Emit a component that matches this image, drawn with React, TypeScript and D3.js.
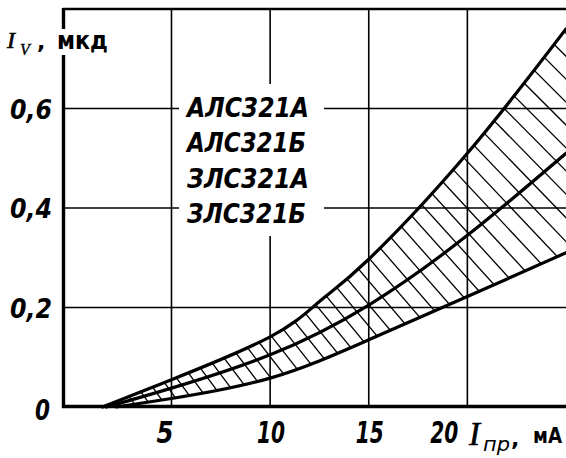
import React from 'react';
import * as d3 from 'd3';

const W = 566;
const H = 458;

// axis ticks
const xTicks = [5, 10, 15, 20];
const xTickLabels = ['5', '10', '15', '20'];
const yTicks = [0.2, 0.4, 0.6];
const yTickLabels = ['0,2', '0,4', '0,6'];

// curves: forward current (mA) vs luminous intensity (mcd)
const upperI = [1.5, 5, 10, 12.5, 15, 20, 25];
const upperIv = [0, 0.055, 0.141, 0.212, 0.297, 0.51, 0.76];
const middleI = [1.7, 5, 10, 15, 20, 25];
const middleIv = [0, 0.038, 0.105, 0.205, 0.345, 0.51];
const lowerI = [2.2, 5, 10, 15, 20, 25];
const lowerIv = [0, 0.017, 0.058, 0.135, 0.222, 0.31];

const legendLabels = ['АЛС321А', 'АЛС321Б', 'ЗЛС321А', 'ЗЛС321Б'];

const x = d3.scaleLinear().domain([-0.5, 25]).range([63, 566]);
const y = d3.scaleLinear().domain([0, 0.8]).range([407, 9]);

const zip = (a: number[], b: number[]) => a.map((v, i) => [v, b[i]] as [number, number]);
const upper = zip(upperI, upperIv);
const middle = zip(middleI, middleIv);
const lower = zip(lowerI, lowerIv);

const lineGen = d3
  .line<[number, number]>()
  .x((d) => x(d[0]))
  .y((d) => y(d[1]))
  .curve(d3.curveNatural);

const bandPath = (() => {
  const up = lineGen(upper) || '';
  const lowRev = lineGen([...lower].reverse()) || '';
  return up + 'L' + lowRev.slice(1) + 'Z';
})();

function middleAt(px: number): number {
  const pts = middle.map((d) => [x(d[0]), y(d[1])]);
  if (px <= pts[0][0]) return pts[0][1];
  for (let i = 1; i < pts.length; i++) {
    if (px <= pts[i][0]) {
      const t = (px - pts[i - 1][0]) / (pts[i][0] - pts[i - 1][0]);
      return pts[i - 1][1] + t * (pts[i][1] - pts[i - 1][1]);
    }
  }
  const n = pts.length;
  const t = (px - pts[n - 2][0]) / (pts[n - 1][0] - pts[n - 2][0]);
  return pts[n - 2][1] + t * (pts[n - 1][1] - pts[n - 2][1]);
}

const hatchStep = 12.5;
const hatches: { x1: number; y1: number; x2: number; y2: number }[] = [];
for (let px = x(upperI[0]) + 4; px < 640; px += hatchStep) {
  const py = middleAt(px);
  const f = Math.min(1, Math.max(0, (px - 100) / 466));
  const slope = 1.45 - 0.45 * f;
  const dy = 220;
  const dx = dy / slope;
  hatches.push({ x1: px - dx, y1: py - dy, x2: px + dx, y2: py + dy });
}

const numFont = "'DejaVu Sans', sans-serif";
const narrow = "'Liberation Sans Narrow', 'DejaVu Sans Condensed', 'DejaVu Sans', sans-serif";
const serif = "'Liberation Serif', 'DejaVu Serif', serif";

export default function App() {
  return (
    <svg
      width={W}
      height={H}
      viewBox={`0 0 ${W} ${H}`}
      style={{ position: 'absolute', left: 0, top: 0, background: '#fff' }}
    >
      <rect x={0} y={0} width={W} height={H} fill="#fff" />
      <defs>
        <clipPath id="band">
          <path d={bandPath} />
        </clipPath>
      </defs>

      {/* grid */}
      {xTicks.map((t) => (
        <line key={'gx' + t} x1={x(t)} x2={x(t)} y1={y(0.8)} y2={y(0)} stroke="#000" strokeWidth={1.6} />
      ))}
      {yTicks.map((t) => (
        <line key={'gy' + t} x1={x(-0.5)} x2={W} y1={y(t)} y2={y(t)} stroke="#000" strokeWidth={1.6} />
      ))}
      <line x1={x(-0.5)} x2={W} y1={y(0.8)} y2={y(0.8)} stroke="#000" strokeWidth={2.6} />

      {/* legend background */}
      <rect x={179} y={84} width={145} height={152} fill="#fff" />

      {/* hatch */}
      <g clipPath="url(#band)">
        {hatches.map((h, i) => (
          <line key={'h' + i} x1={h.x1} y1={h.y1} x2={h.x2} y2={h.y2} stroke="#000" strokeWidth={1.3} />
        ))}
      </g>

      {/* curves */}
      {[upper, middle, lower].map((c, i) => (
        <path key={'c' + i} d={lineGen(c) || ''} fill="none" stroke="#000" strokeWidth={3.2} strokeLinecap="round" />
      ))}

      {/* axes */}
      <line x1={63.5} x2={63.5} y1={8} y2={408} stroke="#000" strokeWidth={3.4} />
      <line x1={62} x2={W} y1={406.5} y2={406.5} stroke="#000" strokeWidth={3.6} />

      {/* y axis label */}
      <rect x={56} y={29} width={54} height={26} fill="#fff" />
      <text x={7} y={48} fontFamily={serif} fontStyle="italic" fontSize={24} stroke="#000" strokeWidth={0.6}>I</text>
      <text x={20} y={55} fontFamily={serif} fontStyle="italic" fontSize={16} stroke="#000" strokeWidth={0.4}>V</text>
      <text x={37} y={49} fontFamily={numFont} fontWeight="bold" fontSize={22}>,</text>
      <text x={57} y={49} fontFamily={numFont} fontWeight="bold" fontSize={24} textLength={51} lengthAdjust="spacingAndGlyphs">мкд</text>

      {/* y tick labels */}
      {yTicks.map((t, i) => (
        <text key={'yl' + t} x={10} y={y(t) + 10} fontFamily={narrow} fontWeight="bold" fontStyle="italic" fontSize={27} textLength={42} lengthAdjust="spacingAndGlyphs">
          {yTickLabels[i]}
        </text>
      ))}
      <text x={35} y={420} fontFamily={narrow} fontWeight="bold" fontStyle="italic" fontSize={29} textLength={15} lengthAdjust="spacingAndGlyphs">0</text>

      {/* x tick labels */}
      {xTicks.map((t, i) => {
        const w = xTickLabels[i].length === 1 ? 17 : 28;
        const off = t === 5 ? -15 : t === 20 ? -37 : -13;
        return (
          <text key={'xl' + t} x={x(t) + off} y={443} fontFamily={narrow} fontWeight="bold" fontStyle="italic" fontSize={31} textLength={w} lengthAdjust="spacingAndGlyphs">
            {xTickLabels[i]}
          </text>
        );
      })}

      {/* x axis label */}
      <text x={469} y={445} fontFamily={serif} fontStyle="italic" fontSize={33} stroke="#000" strokeWidth={0.6}>I</text>
      <text x={483} y={451} fontFamily={numFont} fontStyle="italic" fontSize={20} textLength={27} lengthAdjust="spacingAndGlyphs">пр</text>
      <text x={511} y={446} fontFamily={numFont} fontWeight="bold" fontSize={22}>,</text>
      <text x={533} y={443} fontFamily={numFont} fontWeight="bold" fontSize={21} textLength={29} lengthAdjust="spacingAndGlyphs">мА</text>

      {/* legend labels */}
      {legendLabels.map((l, i) => (
        <text key={'lg' + i} x={187} y={117 + i * 35.3} fontFamily={narrow} fontWeight="bold" fontStyle="italic" fontSize={26} textLength={i % 2 === 0 ? 122 : 119} lengthAdjust="spacingAndGlyphs">
          {l}
        </text>
      ))}
    </svg>
  );
}
